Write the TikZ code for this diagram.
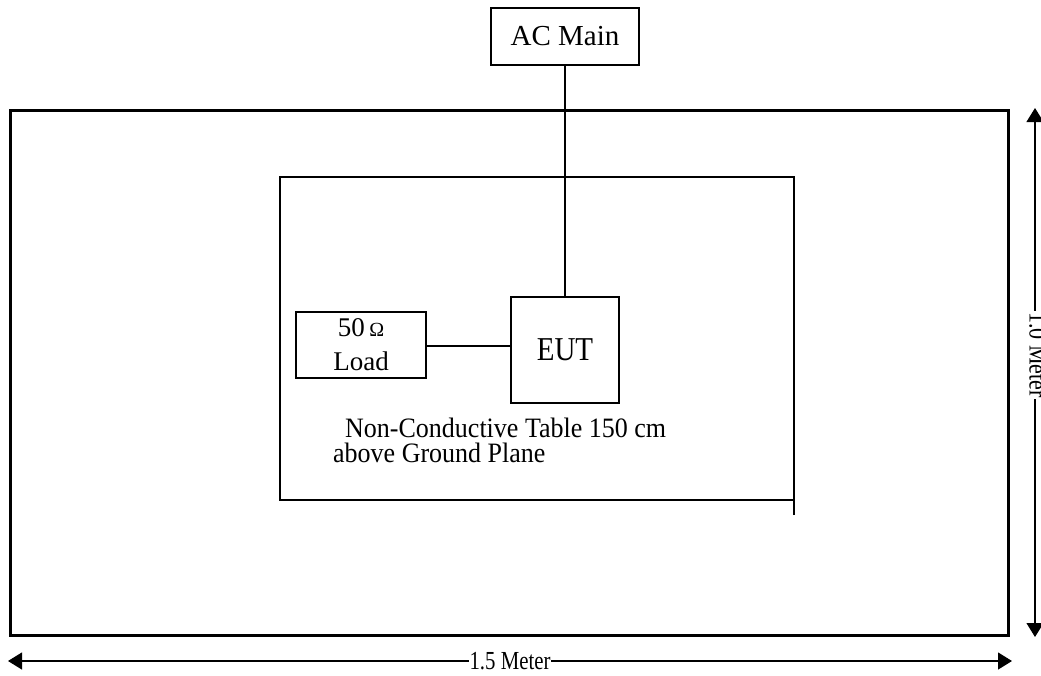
\documentclass[tikz,border=0pt]{standalone}
\usepackage{fontspec}
\setmainfont{Liberation Serif}
\usetikzlibrary{arrows.meta}
\begin{document}
\begin{tikzpicture}[x=1pt,y=-1pt,
  box/.style={draw, line width=1.2pt, inner sep=0pt, align=center},
  thin/.style={line width=1.2pt},
  thick frame/.style={line width=3pt},
  dim/.style={line width=1.2pt, {Triangle[length=14pt,width=17pt]}-{Triangle[length=14pt,width=17pt]}},
  every node/.style={font=\fontsize{26}{34}\selectfont}]
\useasboundingbox (0,0) rectangle (1041,675);
% ground plane
\draw[thick frame] (10,110) rectangle (1008,635);
% table
\draw[thin] (794,515) -- (794,177) -- (280,177) -- (280,500) -- (794,500);
% boxes
\node[box, minimum width=148pt, minimum height=57pt, font=\fontsize{29}{34}\selectfont] (ac) at (565,36.5) {AC Main};
\node[box, minimum width=108pt, minimum height=106pt, font=\fontsize{29}{34}\selectfont] (eut) at (565,350) {\scalebox{1}[1.15]{EUT}};
\node[box, minimum width=130pt, minimum height=66pt, font=\fontsize{27}{34}\selectfont] (load) at (361,345) {50\,{\fontsize{20}{20}\selectfont Ω}\\Load};
% connectors
\draw[thin] (ac.south) -- (ac.south |- eut.north);
\draw[thin] (load.east |- 0,346) -- (eut.west |- 0,346);
% label
\node[anchor=base west, inner sep=0pt] (t1) at (345,437) {\scalebox{1}[1.08]{Non-Conductive Table 150 cm}};
\node[anchor=base west, inner sep=0pt] (t2) at (333,462) {\scalebox{1}[1.08]{above Ground Plane}};
% dimensions
\coordinate (bl) at (8,661);
\coordinate (br) at (1012,661);
\draw[dim] (bl) -- (br) node[midway, fill=white, inner sep=1pt] (w) {\scalebox{0.8}[1]{1.5 Meter}};
\coordinate (rt) at (1035,108);
\coordinate (rb) at (1035,637);
\draw[dim] (rt) -- (rb);
\node[fill=white, inner sep=1pt, rotate=-90] (h) at (1038,355) {\scalebox{0.85}[1]{1.0 Meter}};
\end{tikzpicture}
\end{document}
